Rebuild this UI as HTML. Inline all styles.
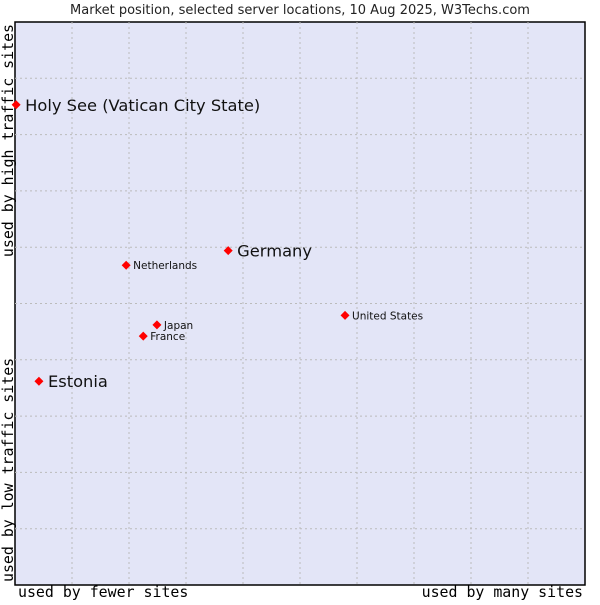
<!DOCTYPE html>
<html><head><meta charset="utf-8"><style>
body{margin:0;background:#fff;width:600px;height:600px;overflow:hidden}
</style></head><body>
<svg width="600" height="600" id="c" font-family="DejaVu Sans, Liberation Sans, sans-serif">
<text x="300" y="14" text-anchor="middle" font-size="13" fill="#222">Market position, selected server locations, 10 Aug 2025, W3Techs.com</text>
<rect x="15" y="22" width="570" height="563" fill="#e3e5f7" stroke="#000" stroke-width="1.5"/>
<g id="grid"></g>
<text x="18" y="597" font-family="DejaVu Sans Mono, Liberation Mono, monospace" font-size="14.9" fill="#000">used by fewer sites</text>
<text x="583" y="597" text-anchor="end" font-family="DejaVu Sans Mono, Liberation Mono, monospace" font-size="14.9" fill="#000">used by many sites</text>
<text transform="translate(13,24) rotate(-90)" text-anchor="end" font-family="DejaVu Sans Mono, Liberation Mono, monospace" font-size="14.9" fill="#000">used by high traffic sites</text>
<text transform="translate(13,582) rotate(-90)" font-family="DejaVu Sans Mono, Liberation Mono, monospace" font-size="14.9" fill="#000">used by low traffic sites</text>
<g id="pts"></g>
</svg>
<script>
const names=["Holy See (Vatican City State)","Germany","Netherlands","United States","Japan","France","Estonia"];
const xVals=[0.2,37.4,19.5,57.9,24.9,22.5,4.2];
const yVals=[85.3,59.4,56.8,47.9,46.2,44.2,36.2];
const big=[true,true,false,false,false,false,true];
const L=15,T=22,W=570,H=563;
const sx=v=>L+v/100*W, sy=v=>T+H-v/100*H;
const NS="http://www.w3.org/2000/svg";
const g=document.getElementById('grid');
for(let i=1;i<10;i++){
 let v=document.createElementNS(NS,'line');
 
 
 v.setAttribute('x1',sx(i*10));v.setAttribute('x2',sx(i*10));v.setAttribute('y1',T);v.setAttribute('y2',T+H);
 v.setAttribute('stroke','#bbb');v.setAttribute('stroke-dasharray','2,3');g.appendChild(v);
 let h=document.createElementNS(NS,'line');
 
 
 h.setAttribute('y1',sy(i*10));h.setAttribute('y2',sy(i*10));h.setAttribute('x1',L);h.setAttribute('x2',L+W);
 h.setAttribute('stroke','#bbb');h.setAttribute('stroke-dasharray','2,3');g.appendChild(h);
}
const p=document.getElementById('pts');
names.forEach((n,i)=>{
 const x=sx(xVals[i]),y=sy(yVals[i]);
 const d=document.createElementNS(NS,'path');
 
 
 d.setAttribute('d',`M${x-4.5},${y}L${x},${y-4.5}L${x+4.5},${y}L${x},${y+4.5}Z`);
 d.setAttribute('fill','#f00');p.appendChild(d);
 const t=document.createElementNS(NS,'text');
 
 
 t.setAttribute('x',x+(big[i]?9:7));t.setAttribute('y',y+(big[i]?6:4));
 t.setAttribute('font-size',big[i]?'16.3':'10.5');t.setAttribute('fill','#111');
 t.textContent=n;p.appendChild(t);
});
</script>
</body></html>
